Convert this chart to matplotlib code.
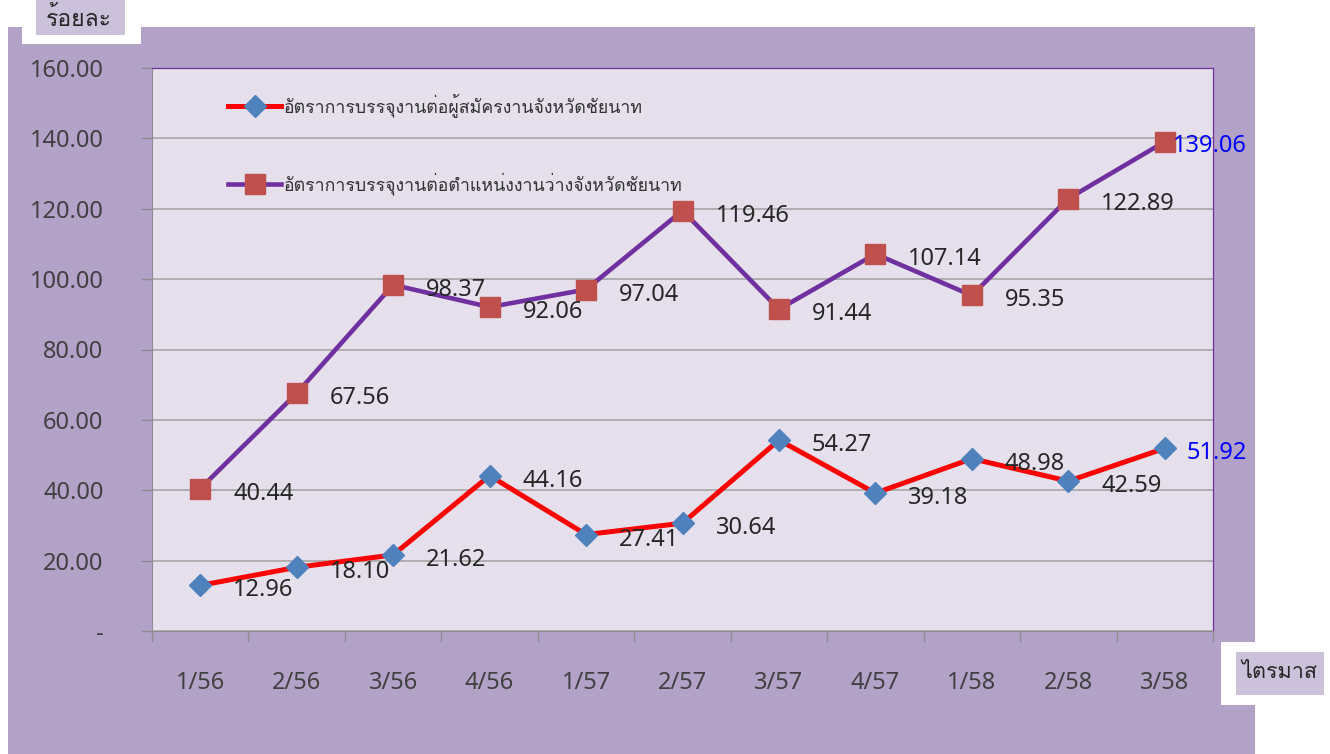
import matplotlib
matplotlib.use("Agg")
import matplotlib.pyplot as plt
from matplotlib import font_manager, ft2font
from matplotlib.patches import Rectangle

categories = ["1/56", "2/56", "3/56", "4/56", "1/57", "2/57", "3/57", "4/57", "1/58", "2/58", "3/58"]
rate_applicants = [12.96, 18.10, 21.62, 44.16, 27.41, 30.64, 54.27, 39.18, 48.98, 42.59, 51.92]
rate_vacancies = [40.44, 67.56, 98.37, 92.06, 97.04, 119.46, 91.44, 107.14, 95.35, 122.89, 139.06]
name_applicants = "อัตราการบรรจุงานต่อผู้สมัครงานจังหวัดชัยนาท"
name_vacancies = "อัตราการบรรจุงานต่อตำแหน่งงานว่างจังหวัดชัยนาท"
y_ticks = [0, 20, 40, 60, 80, 100, 120, 140, 160]


def find_thai_font():
    # first installed family that has Thai glyphs
    for f in font_manager.fontManager.ttflist:
        try:
            if 0x0E01 in ft2font.FT2Font(f.fname).get_charmap():
                return f.name
        except Exception:
            pass
    return "DejaVu Sans"


thai = find_thai_font()
plt.rcParams["font.family"] = [thai, "DejaVu Sans"]
num_font = ["Noto Sans", "DejaVu Sans"]

W, H = 1330, 754
fig = plt.figure(figsize=(W / 100, H / 100), dpi=100)
fig.patch.set_facecolor("white")

# purple chart area
fig.patches.append(Rectangle((8 / W, 0), 1247 / W, 727 / H, transform=fig.transFigure,
                             facecolor="#B3A2C7", edgecolor="none", zorder=-1))

ax = fig.add_axes([152 / W, 1 - 631 / H, (1213 - 152) / W, (631 - 68) / H])
ax.set_facecolor("#E5E0EC")

x = list(range(len(categories)))
ax.plot(x, rate_applicants, color="#FF0000", lw=3.6, marker="D", ms=11,
        mfc="#4F81BD", mec="#4F81BD", label=name_applicants, zorder=3)
ax.plot(x, rate_vacancies, color="#7030A0", lw=3.3, marker="s", ms=15,
        mfc="#C0504D", mec="#C0504D", label=name_vacancies, zorder=3)

for series in (rate_applicants, rate_vacancies):
    for i, v in enumerate(series[:-1]):
        ax.annotate(f"{v:.2f}", (i, v), xytext=(33, -5), textcoords="offset pixels",
                    ha="left", va="center", fontsize=17, family=num_font,
                    color="#262626", zorder=4)

ax.annotate(f"{rate_vacancies[-1]:.2f}", (x[-1], rate_vacancies[-1]), xytext=(8, -4),
            textcoords="offset pixels", ha="left", va="center", fontsize=17,
            family=num_font, color="#0000FF", zorder=4, annotation_clip=False)
ax.annotate(f"{rate_applicants[-1]:.2f}", (x[-1], rate_applicants[-1]), xytext=(22, -5),
            textcoords="offset pixels", ha="left", va="center", fontsize=17,
            family=num_font, color="#0000FF", zorder=4, annotation_clip=False)

ax.set_xlim(-0.5, len(categories) - 0.5)
ax.set_ylim(0, 160)
ax.set_yticks(y_ticks)
ax.set_yticklabels(["-" if t == 0 else f"{t:.2f}" for t in y_ticks], family=num_font)
ax.tick_params(axis="y", length=8, width=1, color="#8C8C8C", pad=27, labelsize=17,
               labelcolor="#404040")
ax.set_xticks(x)
ax.set_xticklabels(categories, family=num_font)
ax.set_xticks([i - 0.5 for i in range(len(categories) + 1)], minor=True)
ax.tick_params(axis="x", which="major", length=0, pad=28.5, labelsize=17, labelcolor="#404040")
ax.tick_params(axis="x", which="minor", length=8, width=1, color="#8C8C8C")
ax.grid(axis="y", color="#A6A6A6", lw=1.2)
ax.set_axisbelow(True)

for side in ("left", "bottom"):
    ax.spines[side].set_color("#8C8C8C")
for side in ("top", "right"):
    ax.spines[side].set_color("#7030A0")
    ax.spines[side].set_linewidth(0.9)

ax.legend(loc="upper left", bbox_to_anchor=(60 / 1061, 1 - 9 / 563), frameon=False,
          fontsize=12.8, labelspacing=3.1, handlelength=3.0, handletextpad=0.15,
          labelcolor="#333333")

# axis title boxes
fig.patches.append(Rectangle((22 / W, 1 - 44 / H), 119 / W, 44 / H, transform=fig.transFigure,
                             facecolor="white", edgecolor="none", zorder=1))
fig.patches.append(Rectangle((36 / W, 1 - 35 / H), 89 / W, 35 / H, transform=fig.transFigure,
                             facecolor="#CCC1DA", edgecolor="none", zorder=2))
fig.text(79 / W, 1 - 19 / H, "ร้อยละ", ha="center", va="center", fontsize=16.5, color="#262626")

fig.patches.append(Rectangle((1221 / W, 1 - 705 / H), 103 / W, 63 / H, transform=fig.transFigure,
                             facecolor="white", edgecolor="none", zorder=1))
fig.patches.append(Rectangle((1236 / W, 1 - 695 / H), 88 / W, 43 / H, transform=fig.transFigure,
                             facecolor="#CCC1DA", edgecolor="none", zorder=2))
fig.text(1279 / W, 1 - 673 / H, "ไตรมาส", ha="center", va="center", fontsize=15.5, color="#262626")

fig.savefig("out.png", dpi=100)
